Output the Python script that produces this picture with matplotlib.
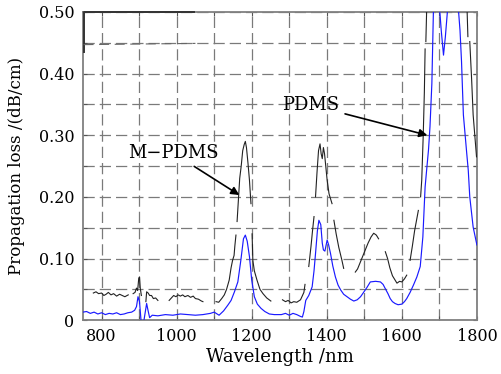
import numpy as np
import matplotlib
matplotlib.use("Agg")
import matplotlib.pyplot as plt
from matplotlib.ticker import FixedLocator, FuncFormatter

plt.rcParams['font.family'] = ['DejaVu Serif']
plt.rcParams['mathtext.fontset'] = 'dejavuserif'

# PDMS (blue) curve
wl_pdms = [750, 760, 770, 780, 790, 800, 810, 820, 830, 840, 850, 860, 870, 880,
           888, 893, 897, 901, 905, 910, 915, 920, 924, 928, 935, 950, 970, 990,
           1010, 1030, 1050, 1070, 1090, 1100, 1113, 1125, 1136, 1145, 1154, 1163,
           1171, 1178, 1183, 1188, 1194, 1200, 1207, 1215, 1225, 1235, 1247, 1260,
           1279, 1290, 1300, 1310, 1320, 1330, 1335, 1339, 1344, 1352, 1361, 1366,
           1370, 1375, 1379, 1384, 1388, 1391, 1395, 1401, 1405, 1410, 1416, 1423,
           1430, 1437, 1445, 1454, 1463, 1472, 1481, 1490, 1498, 1507, 1516, 1530,
           1543, 1550, 1556, 1563, 1569, 1575, 1582, 1590, 1600, 1607, 1613, 1622,
           1631, 1640, 1649, 1656, 1662, 1666, 1671, 1675, 1680, 1684, 1690, 1700,
           1705, 1711, 1716, 1722, 1735, 1750, 1755, 1759, 1764, 1773, 1777, 1781,
           1790, 1800]
loss_pdms = [0.013, 0.014, 0.011, 0.013, 0.010, 0.012, 0.009, 0.011, 0.010, 0.012,
             0.009, 0.010, 0.012, 0.013, 0.016, 0.022, 0.038, 0.030, 0.000, -0.012,
             0.008, 0.027, 0.015, 0.004, 0.008, 0.007, 0.009, 0.008, 0.010, 0.009,
             0.008, 0.009, 0.011, 0.013, 0.008, 0.015, 0.024, 0.032, 0.046, 0.062,
             0.097, 0.132, 0.138, 0.128, 0.103, 0.065, 0.038, 0.026, 0.019, 0.014,
             0.010, 0.009, 0.009, 0.011, 0.008, 0.011, 0.009, 0.006, 0.005, 0.014,
             0.032, 0.040, 0.054, 0.080, 0.108, 0.145, 0.162, 0.155, 0.125, 0.114,
             0.112, 0.130, 0.122, 0.108, 0.088, 0.070, 0.057, 0.049, 0.042, 0.038,
             0.034, 0.031, 0.033, 0.038, 0.045, 0.053, 0.062, 0.063, 0.062, 0.058,
             0.051, 0.043, 0.035, 0.030, 0.027, 0.025, 0.026, 0.030, 0.035, 0.045,
             0.057, 0.070, 0.087, 0.135, 0.216, 0.243, 0.276, 0.314, 0.384, 0.498,
             0.560, 0.510, 0.470, 0.430, 0.460, 0.505, 0.600, 0.510, 0.470, 0.420,
             0.333, 0.270, 0.243, 0.200, 0.151, 0.122]

# M-PDMS (black) curve, nan = break between dashes
wl_mpdms = [778, 785, 792, 800, 806, 812, 818, 825, 832, 840, 848, 855, 862, 871, np.nan,
            884, 889, 893, 896, 899, 901, 903, 906, np.nan,
            918, 920, 924, 928, 933, 938, 944, 950, np.nan,
            980, 986, 992, 998, 1004, 1010, 1016, 1022, 1030, 1037, 1044, 1050, 1058, 1066, 1070, np.nan,
            1105, 1112, 1120, 1127, 1133, 1140, 1145, 1149, 1153, 1155, 1158, np.nan,
            1161, 1165, 1168, 1172, 1176, 1180, 1183, 1186, 1190, 1194, 1198, np.nan,
            1201, 1203, 1207, 1214, 1222, 1230, 1240, 1251, np.nan,
            1282, 1290, 1297, 1305, 1312, 1320, 1330, 1339, 1342, np.nan,
            1352, 1358, 1362, 1366, np.nan,
            1370, 1374, 1378, 1382, 1385, 1388, 1391, 1394, 1398, 1401, 1406, 1414, np.nan,
            1419, 1425, 1432, 1440, 1445, np.nan,
            1476, 1482, 1490, 1500, 1510, 1518, 1525, 1532, 1538, np.nan,
            1556, 1562, 1568, 1575, 1582, 1587, 1594, 1600, 1607, 1613, np.nan,
            1622, 1628, 1634, 1640, 1644, np.nan,
            1650, 1653, 1657, 1660, 1662, np.nan,
            1664, 1666, 1668, np.nan,
            1772, 1774, 1776, np.nan,
            1781, 1786, 1790, 1795, 1799]
loss_mpdms = [0.044, 0.046, 0.043, 0.044, 0.040, 0.042, 0.045, 0.041, 0.043, 0.039, 0.042, 0.040, 0.038, 0.041, np.nan,
              0.043, 0.045, 0.052, 0.048, 0.068, 0.070, 0.052, 0.040, np.nan,
              0.030, 0.046, 0.044, 0.040, 0.040, 0.035, 0.036, 0.032, np.nan,
              0.032, 0.036, 0.040, 0.038, 0.041, 0.039, 0.041, 0.038, 0.040, 0.037, 0.039, 0.035, 0.034, 0.031, 0.030, np.nan,
              0.030, 0.029, 0.035, 0.041, 0.050, 0.065, 0.085, 0.097, 0.105, 0.120, 0.138, np.nan,
              0.160, 0.200, 0.230, 0.250, 0.275, 0.285, 0.290, 0.280, 0.255, 0.227, 0.189, np.nan,
              0.140, 0.097, 0.080, 0.065, 0.050, 0.043, 0.036, 0.031, np.nan,
              0.033, 0.030, 0.032, 0.028, 0.030, 0.029, 0.033, 0.045, 0.058, np.nan,
              0.087, 0.120, 0.145, 0.168, np.nan,
              0.200, 0.240, 0.275, 0.286, 0.270, 0.262, 0.280, 0.270, 0.245, 0.227, 0.205, 0.189, np.nan,
              0.162, 0.140, 0.118, 0.098, 0.084, np.nan,
              0.078, 0.083, 0.095, 0.110, 0.125, 0.135, 0.141, 0.138, 0.132, np.nan,
              0.111, 0.100, 0.085, 0.072, 0.065, 0.060, 0.063, 0.062, 0.067, 0.073, np.nan,
              0.097, 0.120, 0.145, 0.165, 0.178, np.nan,
              0.200, 0.227, 0.300, 0.370, 0.440, np.nan,
              0.452, 0.500, 0.600, np.nan,
              0.600, 0.500, 0.460, np.nan,
              0.452, 0.390, 0.333, 0.295, 0.265]

# stray trace at the top left of the frame
wl_top = [752, 752, 1047]
loss_top = [0.435, 0.5, 0.5]
wl_top2 = [752, 1050]
loss_top2 = [0.447, 0.449]

x_ticks = [800, 900, 1000, 1100, 1200, 1300, 1400, 1500, 1600, 1700, 1800]
y_ticks = [0, 0.05, 0.10, 0.15, 0.20, 0.25, 0.30, 0.35, 0.40, 0.45, 0.50]

fig = plt.figure(figsize=(5.02, 3.74), dpi=100)
ax = fig.add_axes([0.165, 0.144, 0.785, 0.824])

ax.plot(wl_pdms, loss_pdms, color='#1a1aff', lw=0.85, zorder=3)
ax.plot(wl_mpdms, loss_mpdms, color='#222222', lw=0.8, zorder=3)
ax.plot(wl_top, loss_top, color='#333333', lw=1.4, zorder=3, clip_on=False)
ax.plot(wl_top2, loss_top2, color='#666666', lw=0.8, dashes=(9, 5), zorder=3)

ax.set_xlim(750, 1800)
ax.set_ylim(0, 0.5)
ax.xaxis.set_major_locator(FixedLocator(x_ticks))
ax.yaxis.set_major_locator(FixedLocator(y_ticks))
ax.xaxis.set_major_formatter(FuncFormatter(lambda v, p: '%d' % v if int(round(v)) % 200 == 0 else ''))
def yfmt(v, p):
    k = int(round(v * 100))
    if k == 0:
        return '0'
    return '%.2f' % v if k % 10 == 0 else ''
ax.yaxis.set_major_formatter(FuncFormatter(yfmt))

ax.grid(True, color='#7a7a7a', lw=0.9, dashes=(9, 4))
ax.tick_params(direction='in', length=3, width=0.8, color='#555555', labelsize=11.5,
               top=True, right=True, pad=6)
for s in ax.spines.values():
    s.set_color('#808080')
    s.set_linewidth(1.3)

ax.set_xlabel('Wavelength /nm', fontsize=13, labelpad=2)
ax.set_ylabel('Propagation loss /(dB/cm)', fontsize=12, labelpad=10)

ax.annotate('M\u2212PDMS', xy=(1167, 0.203), xytext=(991, 0.271), fontsize=13,
            ha='center', va='center',
            arrowprops=dict(arrowstyle='-|>', color='black', lw=1.2, shrinkA=2, shrinkB=0,
                            mutation_scale=12))
ax.annotate('PDMS', xy=(1668, 0.300), xytext=(1358, 0.349), fontsize=13,
            ha='center', va='center',
            arrowprops=dict(arrowstyle='-|>', color='black', lw=1.2, shrinkA=2, shrinkB=0,
                            mutation_scale=12))

fig.savefig('out.png', dpi=100)
